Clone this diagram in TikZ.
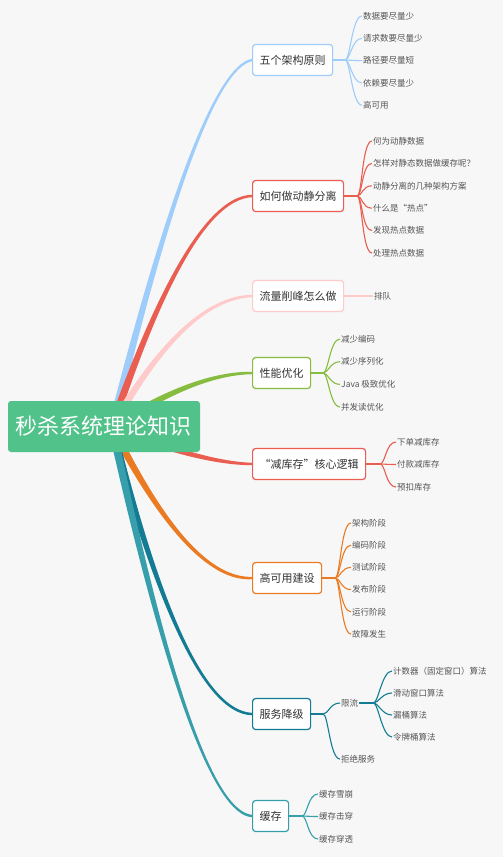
\documentclass[tikz,border=0pt]{standalone}
\usepackage{fontspec}
\setmainfont{Noto Sans CJK SC}
\usetikzlibrary{calc}

\definecolor{bgcol}{HTML}{F7F7F7}
\definecolor{rootcol}{HTML}{52C28B}
\definecolor{bluecol}{HTML}{9ECDFB}
\definecolor{redcol}{HTML}{E95E50}
\definecolor{pinkcol}{HTML}{FFCACA}
\definecolor{greencol}{HTML}{86BC3F}
\definecolor{orangecol}{HTML}{EB7B23}
\definecolor{navycol}{HTML}{147B94}
\definecolor{tealcol}{HTML}{379FAB}
\definecolor{leafcol}{HTML}{555555}

% tapered trunk: colour, control point, target topic
\newcommand{\trunk}[3]{%
  \coordinate (tc) at (#2);
  \coordinate (ta) at ($(s)!4pt!90:(tc)$);
  \coordinate (tb) at ($(s)!4pt!-90:(tc)$);
  \coordinate (ea) at ($(#3.west)+(0,-1.2)$);
  \coordinate (eb) at ($(#3.west)+(0,1.2)$);
  \coordinate (tca) at ($(tc)!2.2pt!90:(ea)$);
  \coordinate (tcb) at ($(tc)!2.2pt!-90:(eb)$);
  \fill[#1] (ta) .. controls ($(ta)!.667!(tca)$) and ($(ea)!.667!(tca)$) .. (ea)
    -- (eb) .. controls ($(eb)!.667!(tcb)$) and ($(tb)!.667!(tcb)$) .. (tb) -- cycle;}

\begin{document}
\begin{tikzpicture}[x=1pt, y=-1pt,
    topic/.style={draw=#1, line width=1.2pt, fill=white, rounded corners=3pt,
      minimum height=31pt, inner xsep=7pt, anchor=west, text=black!80,
      font=\fontsize{11}{13}\selectfont},
    leaf/.style={anchor=west, inner sep=1pt, text=leafcol,
      font=\fontsize{8.5}{10}\selectfont},
    stub/.style={draw=#1, line width=2.2pt},
    twig/.style={draw=#1, line width=1.1pt}]
  \fill[bgcol] (0,0) rectangle (503,857);
  \useasboundingbox (0,0) rectangle (503,857);

  % topics
  \node[topic=bluecol] (b1) at (252,60) {五个架构原则};
  \node[topic=redcol] (b2) at (252,196) {如何做动静分离};
  \node[topic=pinkcol] (b3) at (252,296) {流量削峰怎么做};
  \node[topic=greencol] (b4) at (252,373) {性能优化};
  \node[topic=redcol] (b5) at (252,464) {“减库存”核心逻辑};
  \node[topic=orangecol] (b6) at (252,578) {高可用建设};
  \node[topic=navycol] (b7) at (252,714) {服务降级};
  \node[topic=tealcol] (b8) at (252,816) {缓存};

  % trunks from the root
  \coordinate (s) at (112,427);
  \trunk{bluecol}{200,70}{b1}
  \trunk{redcol}{190,198}{b2}
  \trunk{pinkcol}{185,298}{b3}
  \trunk{greencol}{195,373}{b4}
  \trunk{redcol}{200,463}{b5}
  \trunk{orangecol}{190,581}{b6}
  \trunk{navycol}{185,712}{b7}
  \trunk{tealcol}{195,812}{b8}

  \node[fill=rootcol, text=white, rounded corners=3pt, minimum width=192pt,
    minimum height=51pt, inner sep=0pt, font=\fontsize{22}{26}\selectfont]
    (root) at (104,426.5) {秒杀系统理论知识};

  % 五个架构原则
  \coordinate (j1) at ($(b1.east)+(12,0)$);
  \draw[stub=bluecol] (b1.east) -- (j1);
  \foreach \t [count=\i] in {数据要尽量少,请求数要尽量少,路径要尽量短,依赖要尽量少,高可用} {
    \node[leaf] (a\i) at (362,{16+22.3*(\i-1)}) {\t};
    \draw[twig=bluecol] (j1) .. controls +(5,0) and +(-10,0) .. (a\i.west);
  }

  % 如何做动静分离
  \coordinate (j2) at ($(b2.east)+(13,0)$);
  \draw[stub=redcol] (b2.east) -- (j2);
  \foreach \t [count=\i] in {何为动静数据,怎样对静态数据做缓存呢？,动静分离的几种架构方案,什么是“热点”,发现热点数据,处理热点数据} {
    \node[leaf] (c\i) at (372,{141+22.4*(\i-1)}) {\t};
    \draw[twig=redcol] (j2) .. controls +(5,0) and +(-10,0) .. (c\i.west);
  }

  % 流量削峰怎么做
  \node[leaf] (d1) at (373,296) {排队};
  \draw[pinkcol, line width=1.5pt] (b3.east) -- (d1.west);

  % 性能优化
  \coordinate (j4) at ($(b4.east)+(12,0)$);
  \draw[stub=greencol] (b4.east) -- (j4);
  \foreach \t [count=\i] in {减少编码,减少序列化,Java 极致优化,并发读优化} {
    \node[leaf] (e\i) at (340,{339+22.7*(\i-1)}) {\t};
    \draw[twig=greencol] (j4) .. controls +(5,0) and +(-10,0) .. (e\i.west);
  }

  % 减库存
  \coordinate (j5) at ($(b5.east)+(14,0)$);
  \draw[stub=redcol] (b5.east) -- (j5);
  \foreach \t [count=\i] in {下单减库存,付款减库存,预扣库存} {
    \node[leaf] (f\i) at (396,{442+22.5*(\i-1)}) {\t};
    \draw[twig=redcol] (j5) .. controls +(5,0) and +(-10,0) .. (f\i.west);
  }

  % 高可用建设
  \coordinate (j6) at ($(b6.east)+(13,0)$);
  \draw[stub=orangecol] (b6.east) -- (j6);
  \foreach \t [count=\i] in {架构阶段,编码阶段,测试阶段,发布阶段,运行阶段,故障发生} {
    \node[leaf] (g\i) at (351,{523+22.2*(\i-1)}) {\t};
    \draw[twig=orangecol] (j6) .. controls +(5,0) and +(-10,0) .. (g\i.west);
  }

  % 服务降级
  \coordinate (j7) at ($(b7.east)+(12,0)$);
  \draw[stub=navycol] (b7.east) -- (j7);
  \node[leaf] (xl) at (340,703) {限流};
  \node[leaf] (jj) at (340,759) {拒绝服务};
  \draw[twig=navycol] (j7) .. controls +(5,0) and +(-10,0) .. (xl.west);
  \draw[twig=navycol] (j7) .. controls +(5,0) and +(-10,0) .. (jj.west);
  \coordinate (j7x) at ($(xl.east)+(14,0)$);
  \draw[stub=navycol] (xl.east) -- (j7x);
  \foreach \t [count=\i] in {计数器（固定窗口）算法,滑动窗口算法,漏桶算法,令牌桶算法} {
    \node[leaf] (h\i) at (392,{671+22*(\i-1)}) {\t};
    \draw[twig=navycol] (j7x) .. controls +(5,0) and +(-10,0) .. (h\i.west);
  }

  % 缓存
  \coordinate (j8) at ($(b8.east)+(13,0)$);
  \draw[stub=tealcol] (b8.east) -- (j8);
  \foreach \t [count=\i] in {缓存雪崩,缓存击穿,缓存穿透} {
    \node[leaf] (k\i) at (318,{794+22.5*(\i-1)}) {\t};
    \draw[twig=tealcol] (j8) .. controls +(5,0) and +(-10,0) .. (k\i.west);
  }
\end{tikzpicture}
\end{document}
